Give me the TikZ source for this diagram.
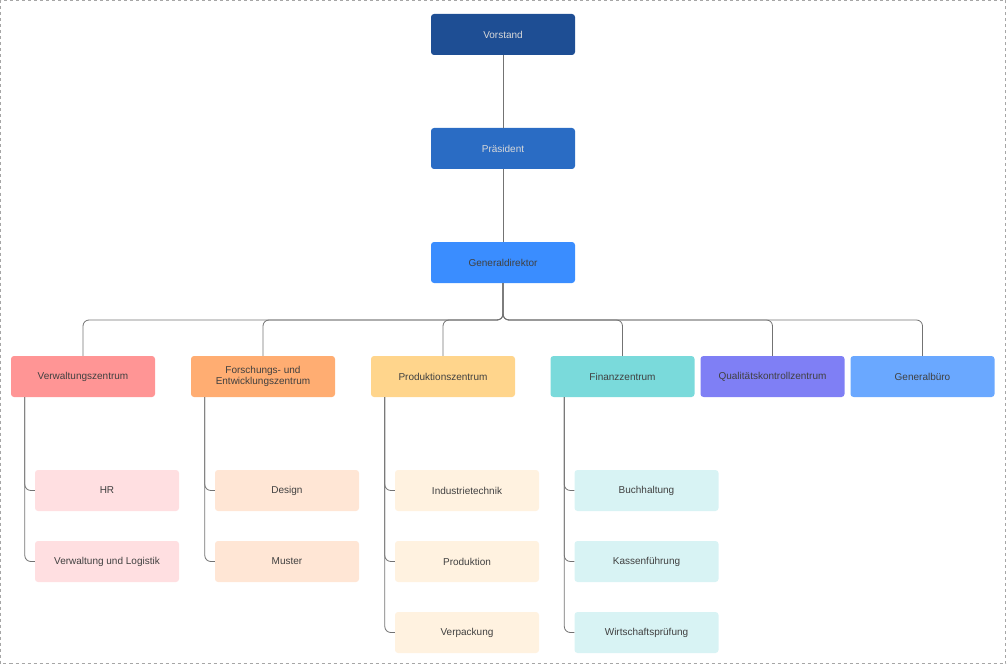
\documentclass[tikz,border=0pt]{standalone}
\usepackage{fontspec}
\setmainfont{Liberation Sans}
\begin{document}
\begin{tikzpicture}[x=1pt,y=-1pt,
 box/.style={draw=none,rounded corners=3pt,minimum width=144pt,minimum height=41pt,font=\fontsize{10}{11.5}\selectfont,text=black!75,align=center,inner sep=1pt},
 ln/.style={draw=black!55,line width=0.8pt,rounded corners=6pt}]
\useasboundingbox (0,0) rectangle (1007,666);
\draw[black!35,dashed] (0.5,0.5) rectangle (1005.5,663.5);
\definecolor{c1}{HTML}{1E4E94}\definecolor{c2}{HTML}{2A6CC4}\definecolor{c3}{HTML}{3A8DFF}
\definecolor{a1}{HTML}{FF9595}\definecolor{a2}{HTML}{FFAD72}\definecolor{a3}{HTML}{FFD58C}
\definecolor{a4}{HTML}{7ADADB}\definecolor{a5}{HTML}{7F7FF5}\definecolor{a6}{HTML}{6AA8FF}
\definecolor{b1}{HTML}{FFDFE1}\definecolor{b2}{HTML}{FFE6D5}\definecolor{b3}{HTML}{FFF2E0}\definecolor{b4}{HTML}{D8F3F4}
\node[box,fill=c1,text=white!85!black] (v) at (503,34.5) {Vorstand};
\node[box,fill=c2,text=white!85!black] (p) at (503,148.5) {Präsident};
\node[box,fill=c3] (g) at (503,262.5) {Generaldirektor};
\draw[ln] (v) -- (p); \draw[ln] (p) -- (g);
\foreach \n/\x/\c/\t in {d1/83/a1/Verwaltungszentrum,d2/263/a2/{Forschungs- und\\Entwicklungszentrum},d3/443/a3/Produktionszentrum,d4/622.5/a4/Finanzzentrum,d5/772.5/a5/Qualitätskontrollzentrum,d6/922.5/a6/Generalbüro}{
 \node[box,fill=\c] (\n) at (\x,376.5) {\t};
 \draw[ln] (g.south) |- (\x,320) -- (\n.north);
}
\foreach \p/\n/\y/\c/\t in {d1/e11/490.5/b1/HR,d1/e12/561.5/b1/Verwaltung und Logistik,
 d2/e21/490.5/b2/Design,d2/e22/561.5/b2/Muster,
 d3/e31/490.5/b3/Industrietechnik,d3/e32/561.5/b3/Produktion,d3/e33/632.5/b3/Verpackung,
 d4/e41/490.5/b4/Buchhaltung,d4/e42/561.5/b4/Kassenführung,d4/e43/632.5/b4/Wirtschaftsprüfung}{
 \node[box,fill=\c,anchor=west] (\n) at ([xshift=24pt]\p.west |- 0,\y) {\t};
 \draw[ln] ([xshift=14pt]\p.south west) |- (\n.west);
}
\end{tikzpicture}
\end{document}
